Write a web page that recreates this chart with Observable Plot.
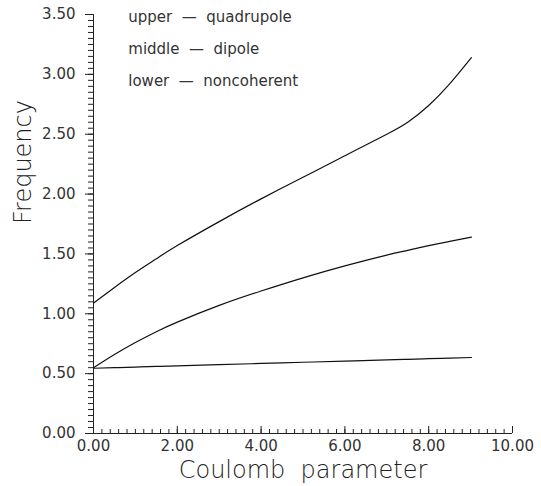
<!DOCTYPE html>
<html>
<head>
<meta charset="utf-8">
<script src="https://cdn.jsdelivr.net/npm/d3@7"></script>
<script src="https://cdn.jsdelivr.net/npm/@observablehq/plot@0.6"></script>
<style>
  html, body { margin: 0; padding: 0; background: #fff; }
  svg text { white-space: pre; }
</style>
</head>
<body>
<div id="chart"></div>
<script>
// Data
const xValues = [0, 0.5, 1, 1.5, 2, 3, 4, 5, 6, 7, 7.5, 8, 8.5, 9.02];
const upper  = [1.09, 1.22, 1.345, 1.46, 1.57, 1.77, 1.96, 2.14, 2.32, 2.50, 2.60, 2.74, 2.92, 3.14];
const middle = [0.55, 0.66, 0.76, 0.85, 0.93, 1.07, 1.19, 1.30, 1.40, 1.49, 1.53, 1.57, 1.605, 1.64];
const lower  = [0.545, 0.55, 0.555, 0.56, 0.565, 0.575, 0.585, 0.595, 0.605, 0.615, 0.62, 0.625, 0.63, 0.635];
const legendLabels = ["upper  \u2014  quadrupole", "middle  \u2014  dipole", "lower  \u2014  noncoherent"];
const xMajorTicks = [0, 2, 4, 6, 8, 10];
const yMajorTicks = [0, 0.5, 1, 1.5, 2, 2.5, 3, 3.5];
const xLabel = "Coulomb  parameter";
const yLabel = "Frequency";

const series = [upper, middle, lower];
const rows = series.flatMap((vals, s) => vals.map((v, i) => ({x: xValues[i], y: v, s})));
const xMinor = d3.range(0, 10.0001, 0.2).map(v => +v.toFixed(2));
const yMinor = d3.range(0, 3.5001, 0.05).map(v => +v.toFixed(2));
const legendRows = legendLabels.map((t, i) => ({t, i}));
const fmt = d3.format(".2f");
const FONT = "DejaVu Sans, Verdana, sans-serif";

const width = 541, height = 486;
const mt = 14, mb = 53, ml = 93, mr = 29;
const innerH = height - mt - mb;

const chart = Plot.plot({
  width, height,
  marginTop: mt, marginBottom: mb, marginLeft: ml, marginRight: mr,
  style: {fontFamily: FONT, background: "#fff", color: "#222"},
  x: {domain: [0, 10]},
  y: {domain: [0, 3.5]},
  marks: [
    // axis lines
    Plot.ruleX([0], {stroke: "#222", strokeWidth: 1}),
    Plot.ruleY([0], {stroke: "#222", strokeWidth: 1}),
    // y minor and major ticks (outward)
    Plot.axisY(yMinor, {tickSize: 5, text: null, stroke: "#222", label: null}),
    Plot.axisY(yMajorTicks, {tickSize: 8, tickPadding: 10, tickFormat: fmt, fontSize: 15, stroke: "#222", fill: "#333", label: null}),
    // x minor and major ticks (inward)
    Plot.tickX(xMinor, {x: d => d, insetTop: innerH - 4, stroke: "#222"}),
    Plot.tickX(xMajorTicks, {x: d => d, insetTop: innerH - 7, stroke: "#222"}),
    Plot.axisX(xMajorTicks, {tickSize: 0, tickPadding: 7, tickFormat: fmt, fontSize: 15, fill: "#333", label: null}),
    // curves
    Plot.line(rows, {x: "x", y: "y", z: "s", stroke: "#111", strokeWidth: 1.2, curve: "natural"}),
    // legend text
    Plot.text(legendRows, {
      x: () => 0.83,
      y: d => 3.48 - d.i * 0.268,
      text: "t", textAnchor: "start", lineAnchor: "middle",
      fontSize: 15, fill: "#333"
    }),
    // axis titles
    Plot.text([xLabel], {frameAnchor: "bottom", dy: 37, lineAnchor: "middle", fontSize: 24, fill: "#222", fontWeight: 200, text: d => d, style: "letter-spacing:0.5px"}),
    Plot.text([yLabel], {frameAnchor: "left", dx: -70, rotate: -90, lineAnchor: "middle", fontSize: 24, fill: "#222", fontWeight: 200, text: d => d})
  ]
});
document.getElementById("chart").appendChild(chart);
</script>
</body>
</html>
